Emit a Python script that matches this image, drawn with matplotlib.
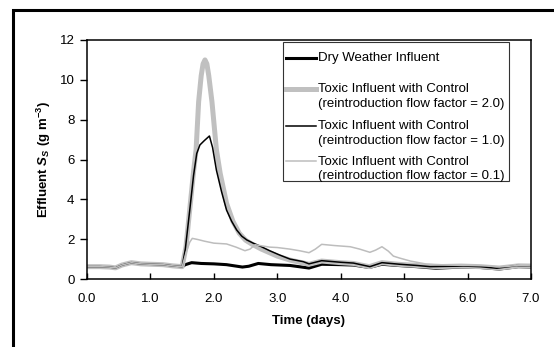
import matplotlib
matplotlib.use("Agg")
import matplotlib.pyplot as plt
from matplotlib.patches import Rectangle
from matplotlib.lines import Line2D

plt.rcParams['font.family'] = ['Liberation Sans', 'DejaVu Sans']
plt.rcParams['mathtext.fontset'] = 'custom'
plt.rcParams['mathtext.rm'] = 'Liberation Sans:bold'
plt.rcParams['mathtext.it'] = 'Liberation Sans:bold:italic'
plt.rcParams['font.size'] = 9.5

# common start-up period (all runs identical before day 1.5)
t_base = [0.0, 0.2, 0.35, 0.45, 0.55, 0.7, 0.85, 1.0, 1.2, 1.35, 1.5]
v_base = [0.62, 0.62, 0.6, 0.56, 0.7, 0.82, 0.76, 0.74, 0.72, 0.66, 0.62]

# dry weather influent
t_dry = [1.55, 1.65, 1.8, 2.0, 2.2, 2.45, 2.55, 2.7, 2.9, 3.2, 3.5, 3.7, 4.0, 4.2,
         4.45, 4.65, 4.9, 5.2, 5.5, 5.9, 6.2, 6.5, 6.8, 7.0]
v_dry = [0.72, 0.82, 0.78, 0.76, 0.72, 0.6, 0.64, 0.78, 0.72, 0.68, 0.55, 0.74, 0.72, 0.7,
         0.58, 0.74, 0.68, 0.62, 0.54, 0.6, 0.58, 0.5, 0.62, 0.6]

# toxic influent, reintroduction flow factor = 2.0
t_f20 = [1.56, 1.62, 1.68, 1.72, 1.76, 1.8, 1.83, 1.86, 1.89, 1.92, 1.97, 2.04, 2.1,
         2.2, 2.3, 2.4, 2.5, 2.6, 2.75, 3.0, 3.2, 3.5, 3.7, 4.0, 4.2, 4.45, 4.65, 4.9,
         5.2, 5.5, 5.9, 6.2, 6.5, 6.8, 7.0]
v_f20 = [1.6, 3.5, 5.4, 6.5, 8.9, 10.2, 10.8, 11.0, 10.8, 10.2, 8.9, 6.5, 5.3,
         3.8, 2.9, 2.3, 1.95, 1.75, 1.5, 1.15, 0.95, 0.74, 0.9, 0.82, 0.78, 0.62, 0.82, 0.74,
         0.68, 0.62, 0.65, 0.62, 0.55, 0.66, 0.65]

# toxic influent, reintroduction flow factor = 1.0
t_f10 = [1.55, 1.62, 1.68, 1.73, 1.78, 1.85, 1.93, 1.98, 2.04, 2.12, 2.2, 2.28, 2.36,
         2.44, 2.52, 2.62, 2.73, 2.88, 3.04, 3.2, 3.41, 3.5, 3.7, 4.0, 4.2, 4.46, 4.65,
         4.93, 5.2, 5.41, 5.93, 6.2, 6.46, 6.77, 7.0]
v_f10 = [1.5, 3.46, 5.2, 6.3, 6.73, 6.95, 7.18, 6.6, 5.47, 4.4, 3.46, 2.9, 2.46,
         2.15, 1.96, 1.8, 1.65, 1.42, 1.2, 1.0, 0.87, 0.76, 0.92, 0.84, 0.8, 0.62, 0.82,
         0.74, 0.68, 0.62, 0.65, 0.62, 0.54, 0.67, 0.65]

# toxic influent, reintroduction flow factor = 0.1
t_f01 = [1.56, 1.62, 1.66, 1.75, 1.85, 2.0, 2.2, 2.35, 2.49, 2.57, 2.65, 2.88, 3.0,
         3.2, 3.35, 3.5, 3.6, 3.7, 3.9, 4.15, 4.3, 4.46, 4.55, 4.65, 4.75, 4.83, 4.93,
         5.1, 5.35, 5.7, 6.0, 6.3, 6.5, 6.8, 7.0]
v_f01 = [1.3, 1.85, 2.04, 1.98, 1.9, 1.8, 1.76, 1.6, 1.42, 1.5, 1.72, 1.6, 1.58,
         1.5, 1.42, 1.32, 1.5, 1.74, 1.68, 1.62, 1.5, 1.34, 1.45, 1.62, 1.4, 1.15, 1.05,
         0.9, 0.75, 0.7, 0.68, 0.66, 0.6, 0.68, 0.66]

labels = ["Dry Weather Influent",
          "Toxic Influent with Control\n(reintroduction flow factor = 2.0)",
          "Toxic Influent with Control\n(reintroduction flow factor = 1.0)",
          "Toxic Influent with Control\n(reintroduction flow factor = 0.1)"]
series = [(t_dry, v_dry), (t_f20, v_f20), (t_f10, v_f10), (t_f01, v_f01)]
styles = [dict(color='black', lw=2.2),
          dict(color='#c0c0c0', lw=3.6),
          dict(color='black', lw=1.1),
          dict(color='#bdbdbd', lw=1.1)]

fig = plt.figure(figsize=(5.54, 3.47), dpi=100)
ax = fig.add_axes([87 / 554, 1 - 279 / 347, 444 / 554, 239 / 347])

for (t, v), st in zip(series, styles):
    ax.plot(t_base + t, v_base + v, solid_joinstyle='round', **st)

ax.set_xlim(0, 7)
ax.set_ylim(0, 12)
ax.set_xticks(range(8))
ax.set_xticklabels([f"{x:.1f}" for x in range(8)])
ax.set_yticks(range(0, 13, 2))
ax.tick_params(axis='x', direction='in', length=4, width=1, pad=10)
ax.tick_params(axis='y', direction='out', length=5, width=1, pad=4)
for s in ax.spines.values():
    s.set_linewidth(1.1)

ax.set_xlabel("Time (days)", fontweight='bold', labelpad=7)
ax.set_ylabel(r"Effluent $S_S$ (g m$^{-3}$)", fontweight='bold', labelpad=5)

# legend box drawn by hand so handles sit on the first line of each label
ax.add_patch(Rectangle((0.4414, 0.41), 0.5091, 0.5816, transform=ax.transAxes,
                       facecolor='white', edgecolor='#333333', lw=0.8, zorder=5))
hy = [0.9247, 0.795, 0.642, 0.492]
for y, lab, st in zip(hy, labels, styles):
    ax.add_line(Line2D([0.448, 0.5158], [y, y], transform=ax.transAxes, zorder=6, **st))
    ax.text(0.520, y + 0.024, lab, transform=ax.transAxes, va='top', ha='left',
            fontsize=9.5, linespacing=1.3, zorder=6)

# outer frame, cut off at right and bottom
fig.add_artist(Rectangle((13 / 554, -0.1), 1.2, 1 - 10 / 347 + 0.1,
                         transform=fig.transFigure, fill=False, lw=2.2,
                         edgecolor='black'))

fig.savefig("out.png", dpi=100)
